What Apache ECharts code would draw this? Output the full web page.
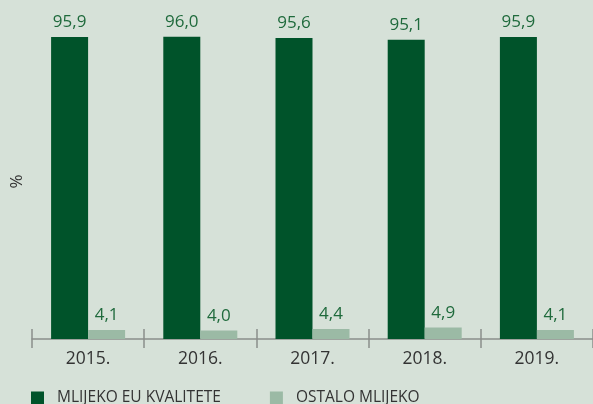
<!DOCTYPE html>
<html><head><meta charset="utf-8">
<style>html,body{margin:0;padding:0;background:#d6e1d8;}#c{width:593px;height:404px;}</style>
<script src="https://cdn.jsdelivr.net/npm/echarts@6/dist/echarts.min.js"></script>
</head><body><div id="c"></div>
<script>
const categories = ['2015.', '2016.', '2017.', '2018.', '2019.'];
const euQuality = [95.9, 96.0, 95.6, 95.1, 95.9];
const otherMilk = [4.1, 4.0, 4.4, 4.9, 4.1];
const seriesNames = ['MLIJEKO EU KVALITETE', 'OSTALO MLIJEKO'];

const chart = echarts.init(document.getElementById('c'));
const fmt = p => String(p.value.toFixed(1)).replace('.', ',');
const labelStyle = {show: true, position: 'top', distance: 6, color: '#1f6a3c', fontSize: 17, fontFamily: 'Open Sans', formatter: fmt};
chart.setOption({
  backgroundColor: '#d6e1d8',
  animation: false,
  grid: {left: 32, right: 0, top: 24, bottom: 65, containLabel: false, outerBoundsMode: 'none'},
  legend: {
    left: 31, top: 390, padding: 0, itemWidth: 13, itemHeight: 13, itemGap: 49,
    icon: 'rect',
    textStyle: {color: '#333', fontSize: 15.5, lineHeight: 13, fontFamily: 'Open Sans', padding: [0, 0, 0, 8]},
    data: seriesNames
  },
  xAxis: [{
    type: 'category', data: categories,
    axisLine: {show: true, lineStyle: {color: '#8a8f8b', width: 1.5}},
    axisTick: {show: true, interval: 0, length: 9, lineStyle: {color: '#8a8f8b', width: 1.5}},
    axisLabel: {color: '#333', fontSize: 17.5, fontFamily: 'Open Sans', margin: 11}
  }, {
    type: 'category', data: categories, position: 'bottom',
    axisLine: {show: false},
    axisTick: {show: true, inside: true, interval: 0, length: 10, lineStyle: {color: '#8a8f8b', width: 1.5}},
    axisLabel: {show: false}
  }],
  yAxis: {
    type: 'value', min: 1.3, max: 100, show: true,
    name: '%', nameLocation: 'middle', nameGap: 6, nameRotate: 90,
    nameTextStyle: {color: '#333', fontSize: 17, fontFamily: 'Open Sans'},
    axisLine: {show: false}, axisTick: {show: false}, axisLabel: {show: false}, splitLine: {show: false}
  },
  series: [{
    name: seriesNames[0], type: 'bar', data: euQuality, barWidth: 37, barGap: '0%',
    itemStyle: {color: '#00532a'}, label: labelStyle
  }, {
    name: seriesNames[1], type: 'bar', data: otherMilk, barWidth: 37, barGap: '0%',
    itemStyle: {color: '#9bbaa5'}, label: labelStyle
  }]
});
</script></body></html>
